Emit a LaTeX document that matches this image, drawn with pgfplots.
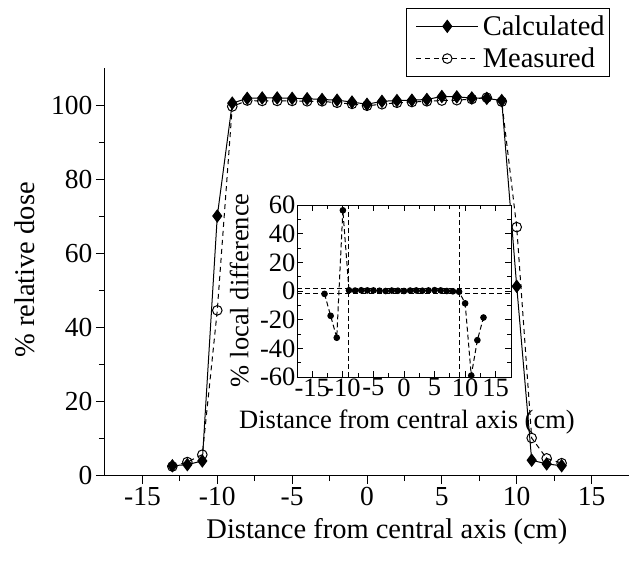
\documentclass[border=0pt]{standalone}
\usepackage{pgfplots}
\pgfplotsset{compat=1.18}
\usepackage{fontspec}
\setmainfont{Liberation Serif}
\begin{document}
\begin{tikzpicture}
\useasboundingbox (-105pt,-91pt) rectangle (537pt,475pt);
\begin{axis}[
  at={(0pt,0pt)}, anchor=south west,
  scale only axis, width=524pt, height=407pt,
  xmin=-17.5, xmax=17.5, ymin=0, ymax=110,
  axis x line*=bottom, axis y line*=left,
  axis line style={line width=1pt},
  xtick={-15,-10,...,15}, ytick={0,20,...,100},
  minor x tick num=1, minor y tick num=1,
  tick align=outside,
  major tick length=9pt, minor tick length=6pt,
  every tick/.style={line width=1pt, black},
  /pgf/number format/assume math mode=true,
  tick label style={font=\fontsize{27.5}{32}\selectfont},
  label style={font=\fontsize{28.5}{33}\selectfont},
  xlabel={Distance from central axis (cm)},
  ylabel={\% relative dose},
  xlabel style={at={(axis description cs:0.538,-0.14)}, anchor=center},
  ylabel style={at={(axis description cs:-0.153,0.504)}, anchor=center},
  legend style={at={(0.964,1.147)}, anchor=north east, draw=black, line width=1pt,
     font=\fontsize{28.5}{33}\selectfont, inner xsep=1pt, inner ysep=6pt, row sep=9pt,
     nodes={inner xsep=4pt, inner ysep=1pt}},
  legend cell align=left,
  legend image code/.code={\path (-8pt,0pt); \draw[mark repeat=2,mark phase=2,#1] plot coordinates {(0pt,0pt) (31pt,0pt) (62pt,0pt)};},
]
\addplot[black, line width=1pt, mark=diamond*, mark size=6pt, mark options={solid, fill=black}] coordinates {
(-13,2.5) (-12,2.8) (-11,3.8) (-10,70) (-9,100.5) (-8,101.8) (-7,101.9) (-6,101.9) (-5,101.8)
(-4,101.7) (-3,101.5) (-2,101.3) (-1,100.8) (0,100.2) (1,101) (2,101.2) (3,101.3) (4,101.5)
(5,102.3) (6,102.2) (7,101.9) (8,101.8) (9,101.2) (10,51) (11,4) (12,3) (13,2.5)
};
\addlegendentry{Calculated}
\addplot[black, line width=1pt, dash pattern=on 5pt off 4pt, mark=o, mark size=4.8pt, mark options={solid, fill=white}] coordinates {
(-13,2.3) (-12,3.5) (-11,5.5) (-10,44.5) (-9,99.6) (-8,101.2) (-7,101.1) (-6,101.1) (-5,101.1)
(-4,101) (-3,101) (-2,100.6) (-1,100.3) (0,99.8) (1,100.2) (2,100.6) (3,100.8) (4,101)
(5,101.2) (6,101.3) (7,101.6) (8,102) (9,100.9) (10,67) (11,10) (12,4.5) (13,3.2)
};
\addlegendentry{Measured}
\end{axis}
\begin{axis}[
  at={(192pt,98pt)}, anchor=south west,
  scale only axis, width=214pt, height=172pt,
  xmin=-17.5, xmax=17.5, ymin=-60, ymax=60,
  axis line style={line width=1pt},
  xtick={-15,-10,...,15}, ytick={-60,-40,...,60},
  minor x tick num=1, minor y tick num=1,
  tick align=inside,
  major tick length=6pt, minor tick length=4pt,
  every tick/.style={line width=1pt, black},
  /pgf/number format/assume math mode=true,
  tick label style={font=\fontsize{26.5}{30}\selectfont},
  xticklabel style={yshift=2pt, inner xsep=0pt},
  yticklabel style={xshift=2pt},
  label style={font=\fontsize{26.5}{30}\selectfont},
  xlabel={Distance from central axis (cm)},
  ylabel={\% local difference},
  xlabel style={at={(axis description cs:0.514,-0.262)}, anchor=center},
  ylabel style={at={(axis description cs:-0.27,0.505)}, anchor=center},
  axis background/.style={fill=white},
]
\addplot[black, line width=1pt, dash pattern=on 5pt off 3pt, forget plot] coordinates {(-9,-60) (-9,60)};
\addplot[black, line width=1pt, dash pattern=on 5pt off 3pt, forget plot] coordinates {(9,-60) (9,60)};
\addplot[black, line width=1pt, dash pattern=on 5pt off 3pt, forget plot] coordinates {(-17.5,2) (17.5,2)};
\addplot[black, line width=1pt, dash pattern=on 5pt off 3pt, forget plot] coordinates {(-17.5,-2) (17.5,-2)};
\addplot[black, line width=1pt, dash pattern=on 5pt off 3pt, mark=*, mark size=2.8pt, mark options={solid}] coordinates {
(-13,-2) (-12,-17.3) (-11,-32.6) (-10,56.3) (-9,0.5) (-8,0.3) (-7,0.5) (-6,0.4) (-5,0.4)
(-4,0.2) (-3,0) (-2,0.3) (-1,0.2) (0,0) (1,0.3) (2,0.4) (3,0.2) (4,0.4)
(5,0.6) (6,0.4) (7,0) (8,-0.2) (9,-0.5) (10,-8.6) (11,-59) (12,-34.3) (13,-18.5)
};
\end{axis}
\end{tikzpicture}
\end{document}
